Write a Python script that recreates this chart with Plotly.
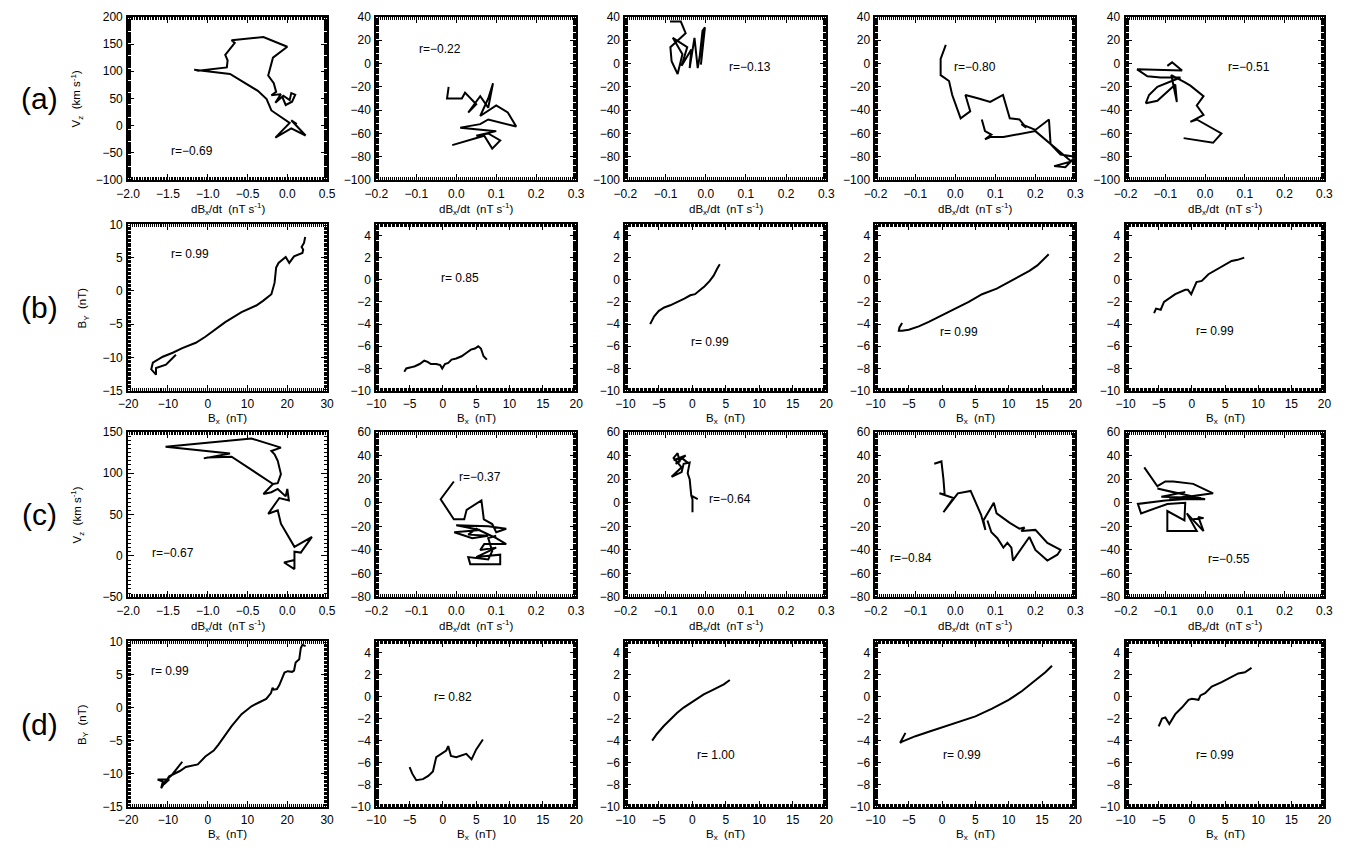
import plotly.graph_objects as go

W, H = 1362, 856

# ---------------- data ----------------
# Row (a): Vz (km/s) vs dBx/dt (nT/s)
A1_X = [0.12, 0.05, 0.23, 0.05, -0.15, 0.03, -0.20, -0.24, -0.26, -0.37, -0.72, -1.17, -1.12, -0.76, -0.75, -0.78, -0.66, -0.70, -0.30, 0.00, -0.18, -0.24, -0.17, -0.14, -0.20, -0.08, -0.15, -0.05, 0.03, 0.05, 0.10, 0.06, -0.02, -0.06]
A1_Y = [3, 10, -18, -5, -22, 5, 28, 40, 49, 64, 95, 103, 101, 107, 120, 130, 152, 157, 163, 145, 125, 92, 78, 62, 56, 58, 42, 55, 47, 60, 57, 44, 38, 52]
A2_X = [-0.019, -0.023, 0.014, 0.022, 0.05, 0.03, 0.06, 0.08, 0.092, 0.08, 0.06, 0.10, 0.129, 0.15, 0.08, 0.06, 0.01, 0.10, 0.05, 0.08, 0.11, 0.09, 0.07, -0.01]
A2_Y = [-20, -30, -30, -25, -35, -42, -28, -38, -17, -30, -45, -36, -42, -54, -48, -52, -55, -58, -62, -60, -66, -73, -62, -70]
A3_X = [-0.089, -0.062, -0.050, -0.088, -0.085, -0.070, -0.058, -0.082, -0.046, -0.060, -0.036, -0.040, -0.028, -0.020, -0.015, -0.008, -0.002, -0.012]
A3_Y = [36, 36, 26, 14, 2, -9, 8, 22, 14, -2, 12, -4, 22, -4, 6, 28, 31, -1]
A4_X = [-0.024, -0.037, -0.037, -0.016, -0.008, 0.013, 0.037, 0.025, 0.058, 0.087, 0.119, 0.136, 0.16, 0.177, 0.165, 0.20, 0.234, 0.238, 0.263, 0.30, 0.275, 0.247, 0.29, 0.20, 0.12, 0.087, 0.074, 0.09, 0.074, 0.066]
A4_Y = [16, 4, -10, -15, -27, -47, -41, -27, -30, -33, -27, -47, -48, -55, -52, -57, -48, -69, -78, -80, -89, -88, -84, -58, -63, -63, -65, -61, -58, -48]
A5_X = [-0.095, -0.083, -0.058, -0.171, -0.145, -0.112, -0.062, -0.12, -0.141, -0.149, -0.12, -0.075, -0.071, -0.085, -0.052, -0.037, -0.004, -0.021, -0.004, -0.037, -0.021, 0.041, 0.020, -0.054]
A5_Y = [-2, 1, -6, -5, -11, -12, -12, -20, -27, -34, -32, -18, -33, -10, -16, -19, -28, -36, -44, -50, -48, -60, -68, -64]

# Row (b): BY (nT) vs Bx (nT)
B1_X = [-8, -10.5, -13, -13, -14.2, -13.8, -11.3, -8.8, -6.4, -3, -0.6, 2, 4.4, 8.5, 10.5, 12.2, 13.9, 16, 16.8, 17.2, 17.8, 19.1, 19.6, 20.5, 21.7, 23.8, 24.0, 23.6, 24.2, 24.5]
B1_Y = [-9.6, -11.1, -11.6, -12.6, -11.8, -10.8, -9.9, -9.3, -8.6, -7.8, -6.9, -5.8, -4.7, -3.2, -2.6, -2.2, -1.5, -0.5, 1.2, 3.5, 4.2, 4.9, 5.1, 4.2, 5.2, 5.7, 6.2, 6.6, 7.2, 8.1]
B2_X = [-5.8, -5.5, -4.8, -4.2, -3.5, -2.8, -2.3, -1.8, -1.0, -0.4, -0.1, 0.3, 0.8, 1.3, 2.0, 2.8, 3.5, 4.2, 4.8, 5.3, 5.7, 6.1, 6.6]
B2_Y = [-8.3, -8.0, -7.9, -7.8, -7.6, -7.3, -7.4, -7.6, -7.6, -7.7, -8.0, -7.6, -7.5, -7.2, -7.1, -6.9, -6.6, -6.3, -6.2, -6.0, -6.2, -6.9, -7.2]
B3_X = [-6.3, -5.7, -5.0, -4.2, -3.3, -2.2, -1.2, -0.3, 0.4, 1.2, 1.8, 2.6, 3.2, 3.7, 4.1]
B3_Y = [-4.0, -3.3, -2.8, -2.5, -2.3, -2.0, -1.7, -1.4, -1.3, -0.9, -0.6, -0.1, 0.4, 1.0, 1.4]
B4_X = [-6.0, -6.4, -6.5, -6.0, -5.0, -3.5, -2.0, 0.0, 2.0, 4.0, 6.0, 8.2, 10.0, 11.5, 13.1, 14.3, 15.2, 16.0]
B4_Y = [-3.9, -4.3, -4.6, -4.6, -4.5, -4.2, -3.8, -3.2, -2.6, -2.0, -1.3, -0.8, -0.2, 0.3, 0.8, 1.3, 1.8, 2.3]
B5_X = [-5.7, -5.4, -4.7, -4.2, -2.5, -1.0, -0.6, -0.1, 0.7, 1.5, 2.5, 3.7, 4.7, 6.0, 6.9, 7.9]
B5_Y = [-3.0, -2.6, -2.7, -2.0, -1.3, -0.9, -0.9, -1.3, -0.2, -0.1, 0.5, 0.9, 1.2, 1.7, 1.8, 2.0]

# Row (c): Vz (km/s) vs dBx/dt (nT/s)
C1_X = [0.09, -0.04, 0.09, 0.09, 0.17, 0.31, 0.09, 0.05, -0.08, -0.12, -0.24, -0.10, 0.02, 0.00, -0.02, -0.12, -0.20, -0.30, -0.18, -0.12, -0.08, -0.12, -0.16, -0.20, -0.08, -0.45, -1.53, -0.72, -1.05, -1.00, -0.70, -0.18]
C1_Y = [-5, -8, -16, 5, 4, 23, 11, 18, 39, 55, 51, 70, 67, 81, 72, 81, 77, 75, 87, 88, 99, 115, 123, 127, 131, 142, 132, 124, 118, 119, 120, 87]
C2_X = [-0.006, -0.039, -0.006, 0.02, 0.026, 0.063, 0.069, 0.09, 0.10, 0.125, 0.08, 0.0, 0.06, -0.005, 0.04, 0.08, 0.03, 0.05, 0.10, 0.125, 0.07, 0.06, 0.10, 0.05, 0.11, 0.11, 0.035, 0.03, 0.08, 0.09, 0.08, 0.10]
C2_Y = [18, 3, -14, -14, -6, 2, -14, -18, -25, -22, -20, -19, -23, -25, -30, -28, -27, -22, -30, -35, -35, -40, -38, -46, -44, -52, -52, -46, -48, -41, -30, -28]
C3_X = [-0.033, -0.033, -0.036, -0.020, -0.036, -0.040, -0.045, -0.040, -0.055, -0.060, -0.085, -0.060, -0.080, -0.070, -0.065, -0.075, -0.050, -0.080, -0.060, -0.045]
C3_Y = [-8, 3, 6, 3, 6, 20, 25, 34, 33, 26, 22, 30, 38, 42, 35, 33, 40, 36, 38, 34]
C4_X = [-0.053, -0.035, -0.030, -0.027, -0.040, -0.005, -0.030, 0.006, 0.038, 0.064, 0.075, 0.070, 0.096, 0.103, 0.136, 0.160, 0.173, 0.165, 0.200, 0.230, 0.263, 0.255, 0.230, 0.200, 0.185, 0.144, 0.140, 0.130, 0.120, 0.105, 0.090, 0.080]
C4_Y = [33, 35, 20, 7, 8, 4, -8, 8, 10, -10, -23, -15, 0, -9, -17, -22, -21, -24, -23, -34, -40, -44, -49, -40, -29, -49, -38, -34, -38, -30, -25, -15]
C5_X = [-0.153, -0.12, -0.10, -0.08, -0.03, 0.02, -0.09, 0.0, -0.12, -0.07, -0.05, -0.11, -0.01, -0.10, -0.169, -0.161, -0.095, -0.05, -0.052, -0.095, -0.095, -0.021, -0.046, -0.004, -0.017, -0.004, -0.03]
C5_Y = [30, 14, 18, 18, 16, 8, 3, 3, 12, 8, 9, 5, 4, 2, -1, -9, -1, 0, -15, -7, -24, -24, -9, -24, -12, -13, -14]

# Row (d): BY (nT) vs Bx (nT)
D1_X = [-6.4, -7.6, -9.0, -10.5, -11.7, -11.3, -12.6, -9.7, -11.0, -9.7, -7.0, -5.5, -2.5, -0.6, 1.5, 2.7, 4.5, 6.0, 8.5, 11.0, 13.0, 14.7, 15.9, 16.3, 16.6, 17.4, 18.0, 19.3, 20.1, 21.2, 21.7, 22.1, 23.0, 23.4, 23.8, 24.6]
D1_Y = [-8.2, -9.2, -10.2, -11.0, -12.2, -11.2, -10.9, -10.9, -11.6, -10.4, -9.6, -9.0, -8.6, -7.4, -6.5, -5.6, -4.0, -2.8, -1.0, 0.2, 0.8, 1.3, 2.2, 3.0, 2.7, 2.8, 3.4, 5.3, 5.5, 5.4, 5.6, 6.8, 7.3, 9.0, 9.5, 9.3]
D2_X = [-5.0, -4.6, -4.0, -3.0, -2.2, -1.5, -1.0, 0.0, 0.5, 0.8, 1.2, 2.0, 3.0, 3.5, 4.3, 5.0, 6.0]
D2_Y = [-6.4, -7.0, -7.6, -7.5, -7.2, -6.8, -5.5, -5.1, -4.9, -4.5, -5.4, -5.5, -5.3, -5.2, -5.7, -4.8, -3.9]
D3_X = [-6.0, -5.3, -4.3, -3.3, -2.3, -1.3, -0.3, 0.7, 1.7, 2.7, 3.7, 4.7, 5.6]
D3_Y = [-4.0, -3.4, -2.7, -2.1, -1.5, -1.0, -0.6, -0.2, 0.2, 0.5, 0.8, 1.1, 1.5]
D4_X = [-5.5, -6.3, -6.0, -4.0, -2.0, 0.0, 2.5, 5.0, 7.5, 10.0, 12.0, 14.0, 15.5, 16.5]
D4_Y = [-3.3, -4.2, -4.1, -3.6, -3.2, -2.8, -2.3, -1.8, -1.1, -0.3, 0.5, 1.5, 2.2, 2.8]
D5_X = [-5.0, -4.5, -4.0, -3.4, -2.5, -1.5, -0.5, 0.0, 1.0, 1.3, 2.0, 3.0, 4.5, 6.0, 7.0, 8.0, 9.0]
D5_Y = [-2.7, -2.0, -1.9, -2.5, -1.6, -1.0, -0.3, -0.2, -0.3, 0.1, 0.3, 0.9, 1.3, 1.8, 2.1, 2.2, 2.6]

R_TEXT = ["r=\u22120.69", "r=\u22120.22", "r=\u22120.13", "r=\u22120.80", "r=\u22120.51",
          "r= 0.99", "r= 0.85", "r= 0.99", "r= 0.99", "r= 0.99",
          "r=\u22120.67", "r=\u22120.37", "r=\u22120.64", "r=\u22120.84", "r=\u22120.55",
          "r= 0.99", "r= 0.82", "r= 1.00", "r= 0.99", "r= 0.99"]
ROW_LABELS = ["(a)", "(b)", "(c)", "(d)"]
XTITLES = ["dB<sub>x</sub>/dt\u00a0\u00a0(nT s<sup>-1</sup>)", "B<sub>x</sub>\u00a0\u00a0(nT)",
           "dB<sub>x</sub>/dt\u00a0\u00a0(nT s<sup>-1</sup>)", "B<sub>x</sub>\u00a0\u00a0(nT)"]
YTITLES = ["V<sub>z</sub>\u00a0\u00a0(km s<sup>-1</sup>)", "B<sub>Y</sub>\u00a0\u00a0(nT)",
           "V<sub>z</sub>\u00a0\u00a0(km s<sup>-1</sup>)", "B<sub>Y</sub>\u00a0\u00a0(nT)"]

# axis settings per row: first column / other columns  (major dtick, approx. minor tick count)
XR_FIRST = [[-2, 0.5], [-20, 30], [-2, 0.5], [-20, 30]]
XR_OTHER = [[-0.2, 0.3], [-10, 20], [-0.2, 0.3], [-10, 20]]
YR_FIRST = [[-100, 200], [-15, 10], [-50, 150], [-15, 10]]
YR_OTHER = [[-100, 40], [-10, 5], [-80, 60], [-10, 5]]
XD_FIRST = [(0.5, 25), (10, 25), (0.5, 25), (10, 25)]
XD_OTHER = [(0.1, 25), (5, 30), (0.1, 25), (5, 30)]
YD_FIRST = [(50, 30), (5, 25), (50, 20), (5, 25)]
YD_OTHER = [(20, 28), (2, 30), (20, 28), (2, 30)]

# ---------------- layout geometry ----------------
COL_L = [118, 370, 623, 877, 1131]
COL_R = [320, 573, 827, 1080, 1333]
ROW_T = [10, 221, 432, 645]
ROW_B = [176, 390, 600, 813]

# r label positions (data coords)
R_POS = [(-1.2, -46), (-0.04, 12), (0.11, -3), (0.05, -3), (0.11, -3),
         (-4.5, 5.6), (2.5, 0.2), (2.6, -5.6), (2.6, -4.7), (3.5, -4.6),
         (-1.44, 3), (0.06, 22), (0.06, 3), (-0.11, -47), (0.06, -48),
         (-9.6, 5.5), (1.5, 0.0), (3.5, -5.3), (3.0, -5.3), (3.5, -5.3)]

DATA = [(A1_X, A1_Y), (A2_X, A2_Y), (A3_X, A3_Y), (A4_X, A4_Y), (A5_X, A5_Y),
        (B1_X, B1_Y), (B2_X, B2_Y), (B3_X, B3_Y), (B4_X, B4_Y), (B5_X, B5_Y),
        (C1_X, C1_Y), (C2_X, C2_Y), (C3_X, C3_Y), (C4_X, C4_Y), (C5_X, C5_Y),
        (D1_X, D1_Y), (D2_X, D2_Y), (D3_X, D3_Y), (D4_X, D4_Y), (D5_X, D5_Y)]

FONT = "Liberation Sans"
fig = go.Figure()
layout = dict(width=W, height=H, margin=dict(l=0, r=0, t=0, b=0),
              plot_bgcolor="white", showlegend=False)
annotations = []


def axis_common(dt, mnt, rng, fmt=None):
    d = dict(range=rng, tickmode="linear", tick0=0, dtick=dt, showline=True, linecolor="black",
             linewidth=2, mirror="allticks", ticks="inside", ticklen=6, tickcolor="black",
             showgrid=False, zeroline=False, ticklabelstandoff=1,
             tickfont=dict(family=FONT, size=12, color="black"),
             minor=dict(ticks="inside", ticklen=3, nticks=mnt, showgrid=False))
    if fmt:
        d["tickformat"] = fmt
    return d


for r in range(4):
    for c in range(5):
        k = r * 5 + c + 1
        xn = "x" if k == 1 else f"x{k}"
        yn = "y" if k == 1 else f"y{k}"
        xs, ys = DATA[k - 1]
        fig.add_trace(go.Scatter(x=xs, y=ys, mode="lines", xaxis=xn, yaxis=yn,
                                 line=dict(color="black", width=2)))
        if c == 0:
            xr, (xd, xm), yr, (yd, ym) = XR_FIRST[r], XD_FIRST[r], YR_FIRST[r], YD_FIRST[r]
        else:
            xr, (xd, xm), yr, (yd, ym) = XR_OTHER[r], XD_OTHER[r], YR_OTHER[r], YD_OTHER[r]
        xfmt = ".1f" if r in (0, 2) else None
        xa = axis_common(xd, xm, xr, xfmt)
        xa.update(domain=[COL_L[c] / W, COL_R[c] / W], anchor=yn)
        ya = axis_common(yd, ym, yr)
        ya.update(domain=[1 - ROW_B[r] / H, 1 - ROW_T[r] / H], anchor=xn)
        layout["xaxis" if k == 1 else f"xaxis{k}"] = xa
        layout["yaxis" if k == 1 else f"yaxis{k}"] = ya
        rx, ry = R_POS[k - 1]
        annotations.append(dict(x=rx, y=ry, xref=xn, yref=yn, text=R_TEXT[k - 1], showarrow=False,
                                font=dict(family=FONT, size=12, color="black"),
                                xanchor="center", yanchor="middle"))
        annotations.append(dict(x=(COL_L[c] + COL_R[c]) / 2 / W, y=1 - (ROW_B[r] + 29) / H,
                                xref="paper", yref="paper", text=XTITLES[r], showarrow=False,
                                font=dict(family=FONT, size=11.5, color="black"),
                                xanchor="center", yanchor="middle"))
    yc = 1 - (ROW_T[r] + ROW_B[r]) / 2 / H
    annotations.append(dict(x=(66 if r in (0, 2) else 72) / W, y=yc, xref="paper", yref="paper",
                            text=YTITLES[r], textangle=-90, showarrow=False,
                            font=dict(family=FONT, size=11.5, color="black"),
                            xanchor="center", yanchor="middle"))
    annotations.append(dict(x=28 / W, y=yc, xref="paper", yref="paper", text=ROW_LABELS[r],
                            showarrow=False, font=dict(family=FONT, size=30, color="black"),
                            xanchor="center", yanchor="middle"))

layout["annotations"] = annotations
fig.update_layout(**layout)
fig.write_html("out.html")
